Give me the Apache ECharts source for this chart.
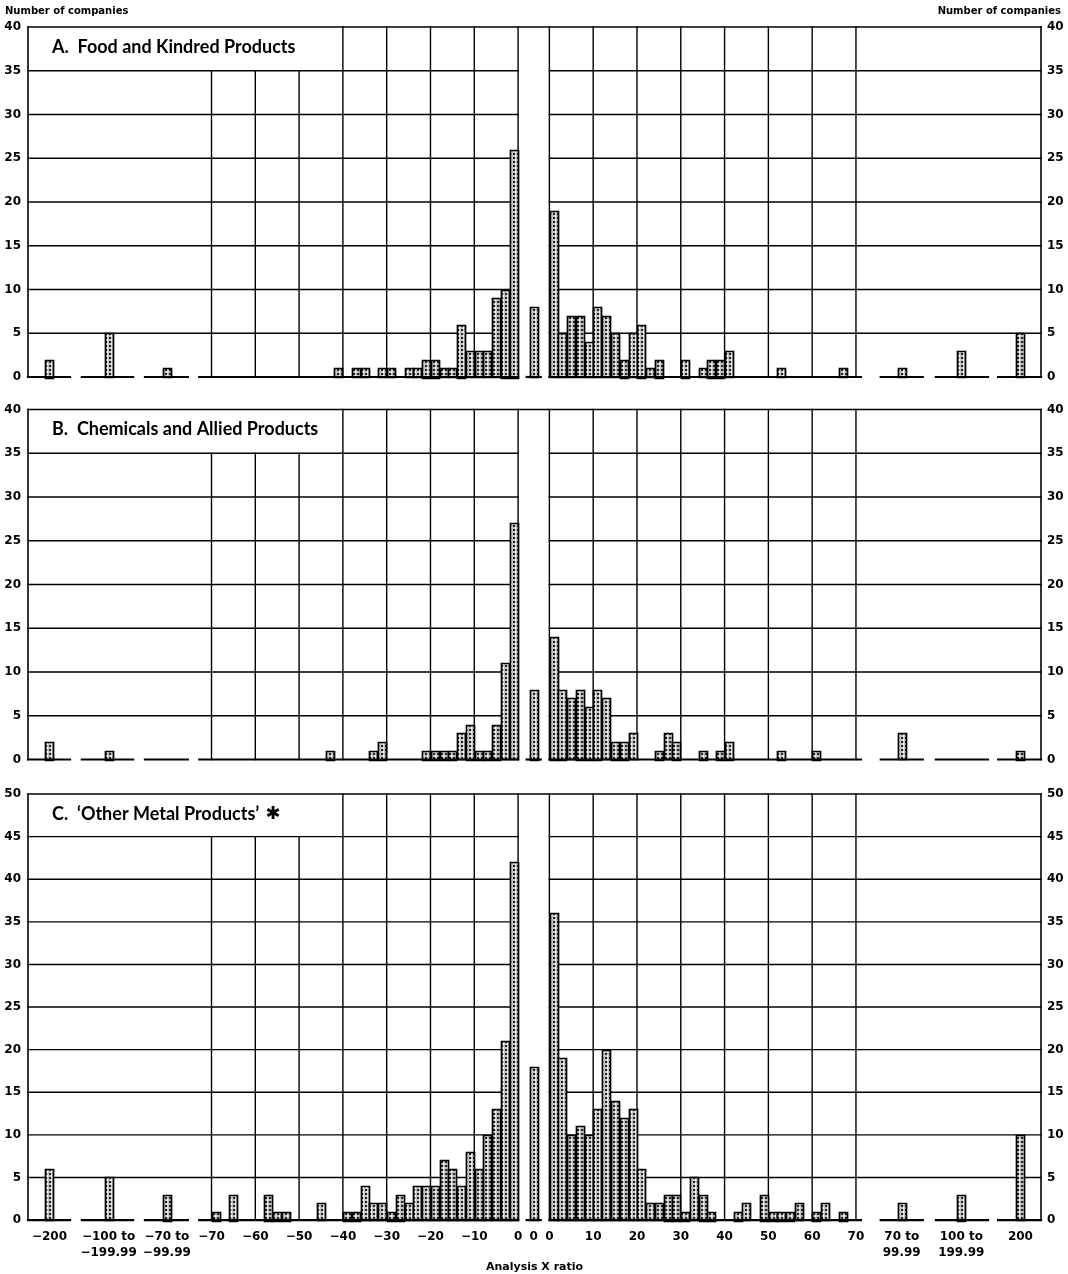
<!DOCTYPE html>
<html><head><meta charset="utf-8">
<script src="https://cdn.jsdelivr.net/npm/echarts@6/dist/echarts.min.js"></script>
<style>html,body{margin:0;padding:0;background:#fff}#c{width:1068px;height:1274px}</style>
</head><body><div id="c"></div>
<script>
// ---------------- DATA ----------------
const leftBinStarts  = [-70,-68,-66,-64,-62,-60,-58,-56,-54,-52,-50,-48,-46,-44,-42,-40,-38,-36,-34,-32,-30,-28,-26,-24,-22,-20,-18,-16,-14,-12,-10,-8,-6,-4,-2];
const rightBinStarts = [0,2,4,6,8,10,12,14,16,18,20,22,24,26,28,30,32,34,36,38,40,42,44,46,48,50,52,54,56,58,60,62,64,66,68];
const outerLeftLabels  = ['\u2212200', '\u2212100 to\n\u2212199.99', '\u221270 to\n\u221299.99'];
const outerRightLabels = ['70 to\n99.99', '100 to\n199.99', '200'];
const leftTickValues  = [-70,-60,-50,-40,-30,-20,-10,0];
const rightTickValues = [0,10,20,30,40,50,60,70];
const panelTitles = ['A.  Food and Kindred Products', 'B.  Chemicals and Allied Products', 'C.  \u2018Other Metal Products\u2019'];
const yMaxes = [40, 40, 50];
const yTickStep = 5;
const yAxisName = 'Number of companies';
const xAxisName = 'Analysis X ratio';

// Panel A: Food and Kindred Products
const foodLeft   = [0,0,0,0,0,0,0,0,0,0, 0,0,0,0,1,0,1,1,0,1, 1,0,1,1,2,2,1,1,6,3, 3,3,9,10,26];
const foodZero   = 8;
const foodRight  = [19,5,7,7,4,8,7,5,2,5, 6,1,2,0,0,2,0,1,2,2, 3,0,0,0,0,0,1,0,0,0, 0,0,0,1,0];
const foodOuterLeft  = [2,5,1];
const foodOuterRight = [1,3,5];

// Panel B: Chemicals and Allied Products
const chemLeft   = [0,0,0,0,0,0,0,0,0,0, 0,0,0,1,0,0,0,0,1,2, 0,0,0,0,1,1,1,1,3,4, 1,1,4,11,27];
const chemZero   = 8;
const chemRight  = [14,8,7,8,6,8,7,2,2,3, 0,0,1,3,2,0,0,1,0,1, 2,0,0,0,0,0,1,0,0,0, 1,0,0,0,0];
const chemOuterLeft  = [2,1,0];
const chemOuterRight = [3,0,1];

// Panel C: 'Other Metal Products'
const metalLeft  = [1,0,3,0,0,0,3,1,1,0, 0,0,2,0,0,1,1,4,2,2, 1,3,2,4,4,4,7,6,4,8, 6,10,13,21,42];
const metalZero  = 18;
const metalRight = [36,19,10,11,10,13,20,14,12,13, 6,2,2,3,3,1,5,3,1,0, 0,1,2,0,3,1,1,1,2,0, 1,2,0,1,0];
const metalOuterLeft  = [6,5,3];
const metalOuterRight = [2,3,10];

// ---------------- LAYOUT (axis units) ----------------
const XMIN = -111.9, XMAX = 119.4;
const GAP = 7.15;
const BIN = 2;
const BAR_W = 1.86;
const OUTER_LEFT_POS  = [-107.0, -93.5, -80.2];
const OUTER_RIGHT_POS = [87.6, 101.2, 114.7];
const ZERO_POS = GAP / 2;
const BASE_SEGS = [[XMIN,-102.3],[-99.6,-87.9],[-85.2,-75.4],[-72.8,0],[ZERO_POS-1.6,ZERO_POS+1.6],[GAP,78.3],[82.8,92.4],[95.4,107.3],[109.6,XMAX]];
const GRIDS = [{top:27, height:350},{top:409.5, height:350},{top:794, height:438.5}];
const LEFT = 28, WIDTH = 1013;

const panels = [
  {left:foodLeft, zero:foodZero, right:foodRight, ol:foodOuterLeft, or:foodOuterRight},
  {left:chemLeft, zero:chemZero, right:chemRight, ol:chemOuterLeft, or:chemOuterRight},
  {left:metalLeft, zero:metalZero, right:metalRight, ol:metalOuterLeft, or:metalOuterRight}
];

// stipple pattern
const pc = document.createElement('canvas'); pc.width = 4; pc.height = 4;
const g2 = pc.getContext('2d');
g2.fillStyle = '#c4c4c4'; g2.fillRect(0,0,4,4);
g2.fillStyle = '#262626'; g2.fillRect(1,1,2,2);
g2.fillStyle = '#ffffff'; g2.fillRect(3,3,1,1); g2.fillRect(3,0,1,1);
const pattern = {image: pc, repeat: 'repeat'};

const FONT = '"DejaVu Sans", sans-serif';

function lineItem(params, api) {
  const p1 = api.coord([api.value(0), api.value(1)]);
  const p2 = api.coord([api.value(2), api.value(3)]);
  return {type:'line', shape:{x1:p1[0], y1:p1[1], x2:p2[0], y2:p2[1]},
          style:{stroke:'#000', lineWidth: api.value(4), lineCap:'square'}};
}
function barItem(params, api) {
  const x = api.value(0), v = api.value(1);
  if (!v) return null;
  const tl = api.coord([x - BAR_W/2, v]);
  const br = api.coord([x + BAR_W/2, 0]);
  return {type:'rect', shape:{x:Math.round(tl[0])+0.5, y:Math.round(tl[1])+0.5, width:Math.round(br[0]-tl[0]), height:Math.round(br[1]-tl[1])},
          style:{fill: pattern, stroke:'#000', lineWidth:1.7}};
}

const labelPos = [], labelText = [];
OUTER_LEFT_POS.forEach((p,i)=>{labelPos.push(p); labelText.push(outerLeftLabels[i]);});
leftTickValues.forEach(t=>{labelPos.push(t); labelText.push(t<0 ? '\u2212'+(-t) : String(t));});
labelPos.push(ZERO_POS); labelText.push('0');
rightTickValues.forEach(t=>{labelPos.push(t+GAP); labelText.push(String(t));});
OUTER_RIGHT_POS.forEach((p,i)=>{labelPos.push(p); labelText.push(outerRightLabels[i]);});
function labelFor(v){
  let best = 0, bd = 1e9;
  labelPos.forEach((p,i)=>{const d=Math.abs(p-v); if(d<bd){bd=d;best=i;}});
  return labelText[best];
}

const grid = [], xAxis = [], yAxis = [], series = [], title = [];
panels.forEach((pn, k) => {
  const M = yMaxes[k];
  grid.push({left:LEFT, width:WIDTH, top:GRIDS[k].top, height:GRIDS[k].height, containLabel:false});
  const isLast = k === panels.length - 1;
  xAxis.push({
    type:'value', gridIndex:k, min:XMIN, max:XMAX,
    axisLine:{show:false}, axisTick:{show:false}, splitLine:{show:false},
    axisLabel:{show:isLast, customValues: labelPos, formatter: labelFor, margin:9,
               fontFamily:FONT, fontWeight:'bold', fontSize:12, color:'#000', lineHeight:16},
    name: isLast ? xAxisName : '', nameLocation:'middle', nameGap:35,
    nameTextStyle:{fontFamily:FONT, fontWeight:'bold', fontSize:11, color:'#000'}
  });
  const yCommon = {type:'value', gridIndex:k, min:0, max:M, interval:yTickStep,
    axisLine:{show:false}, axisTick:{show:false}, splitLine:{show:false}};
  yAxis.push(Object.assign({}, yCommon, {position:'left',
    axisLabel:{margin:7, fontFamily:FONT, fontWeight:'bold', fontSize:12, color:'#000'}}));
  yAxis.push(Object.assign({}, yCommon, {position:'right',
    axisLabel:{margin:6, fontFamily:FONT, fontWeight:'bold', fontSize:12, color:'#000'}}));

  const lines = [];
  for (let y = yTickStep; y < M; y += yTickStep) {
    lines.push([XMIN, y, 0, y, 1.4]);
    lines.push([GAP, y, XMAX, y, 1.4]);
  }
  lines.push([XMIN, M, XMAX, M, 1.6]);
  lines.push([XMIN, 0, XMIN, M, 1.6]);
  lines.push([XMAX, 0, XMAX, M, 1.6]);
  leftTickValues.forEach(t => lines.push([t, 0, t, t <= -50 ? M - yTickStep : M, 1.4]));
  rightTickValues.forEach(t => lines.push([t + GAP, 0, t + GAP, M, 1.4]));
  series.push({type:'custom', xAxisIndex:k, yAxisIndex:2*k, renderItem:lineItem, data:lines,
               encode:{x:[0,2], y:[1,3]}, silent:true, z:1, clip:false});

  const bars = [];
  leftBinStarts.forEach((s,i)=> bars.push([s + BIN/2, pn.left[i]]));
  rightBinStarts.forEach((s,i)=> bars.push([s + BIN/2 + GAP, pn.right[i]]));
  bars.push([ZERO_POS, pn.zero]);
  OUTER_LEFT_POS.forEach((p,i)=> bars.push([p, pn.ol[i]]));
  OUTER_RIGHT_POS.forEach((p,i)=> bars.push([p, pn.or[i]]));
  series.push({type:'custom', xAxisIndex:k, yAxisIndex:2*k, renderItem:barItem, data:bars,
               encode:{x:0, y:1}, silent:true, z:2, clip:false});

  const base = BASE_SEGS.map(s => [s[0], 0, s[1], 0, 2.2]);
  series.push({type:'custom', xAxisIndex:k, yAxisIndex:2*k, renderItem:lineItem, data:base,
               encode:{x:[0,2], y:[1,3]}, silent:true, z:3, clip:false});

  title.push({text: panelTitles[k] + (k===2 ? '{s| \u2731}' : ''), left:52, top:GRIDS[k].top + 11, padding:0,
    textStyle:{fontFamily:'Lato, sans-serif', fontWeight:'bold', fontSize:18, color:'#000',
      rich:{s:{fontSize:18, fontFamily:'DejaVu Sans', color:'#000'}}}});
});

title.push({text: yAxisName, left:5, top:6, padding:0, textStyle:{fontFamily:FONT, fontWeight:'bold', fontSize:10, color:'#000'}});
title.push({text: yAxisName, right:7, top:6, padding:0, textStyle:{fontFamily:FONT, fontWeight:'bold', fontSize:10, color:'#000'}});

const chart = echarts.init(document.getElementById('c'), null, {renderer:'canvas'});
chart.setOption({animation:false, backgroundColor:'#fff', title, grid, xAxis, yAxis, series});
</script></body></html>
